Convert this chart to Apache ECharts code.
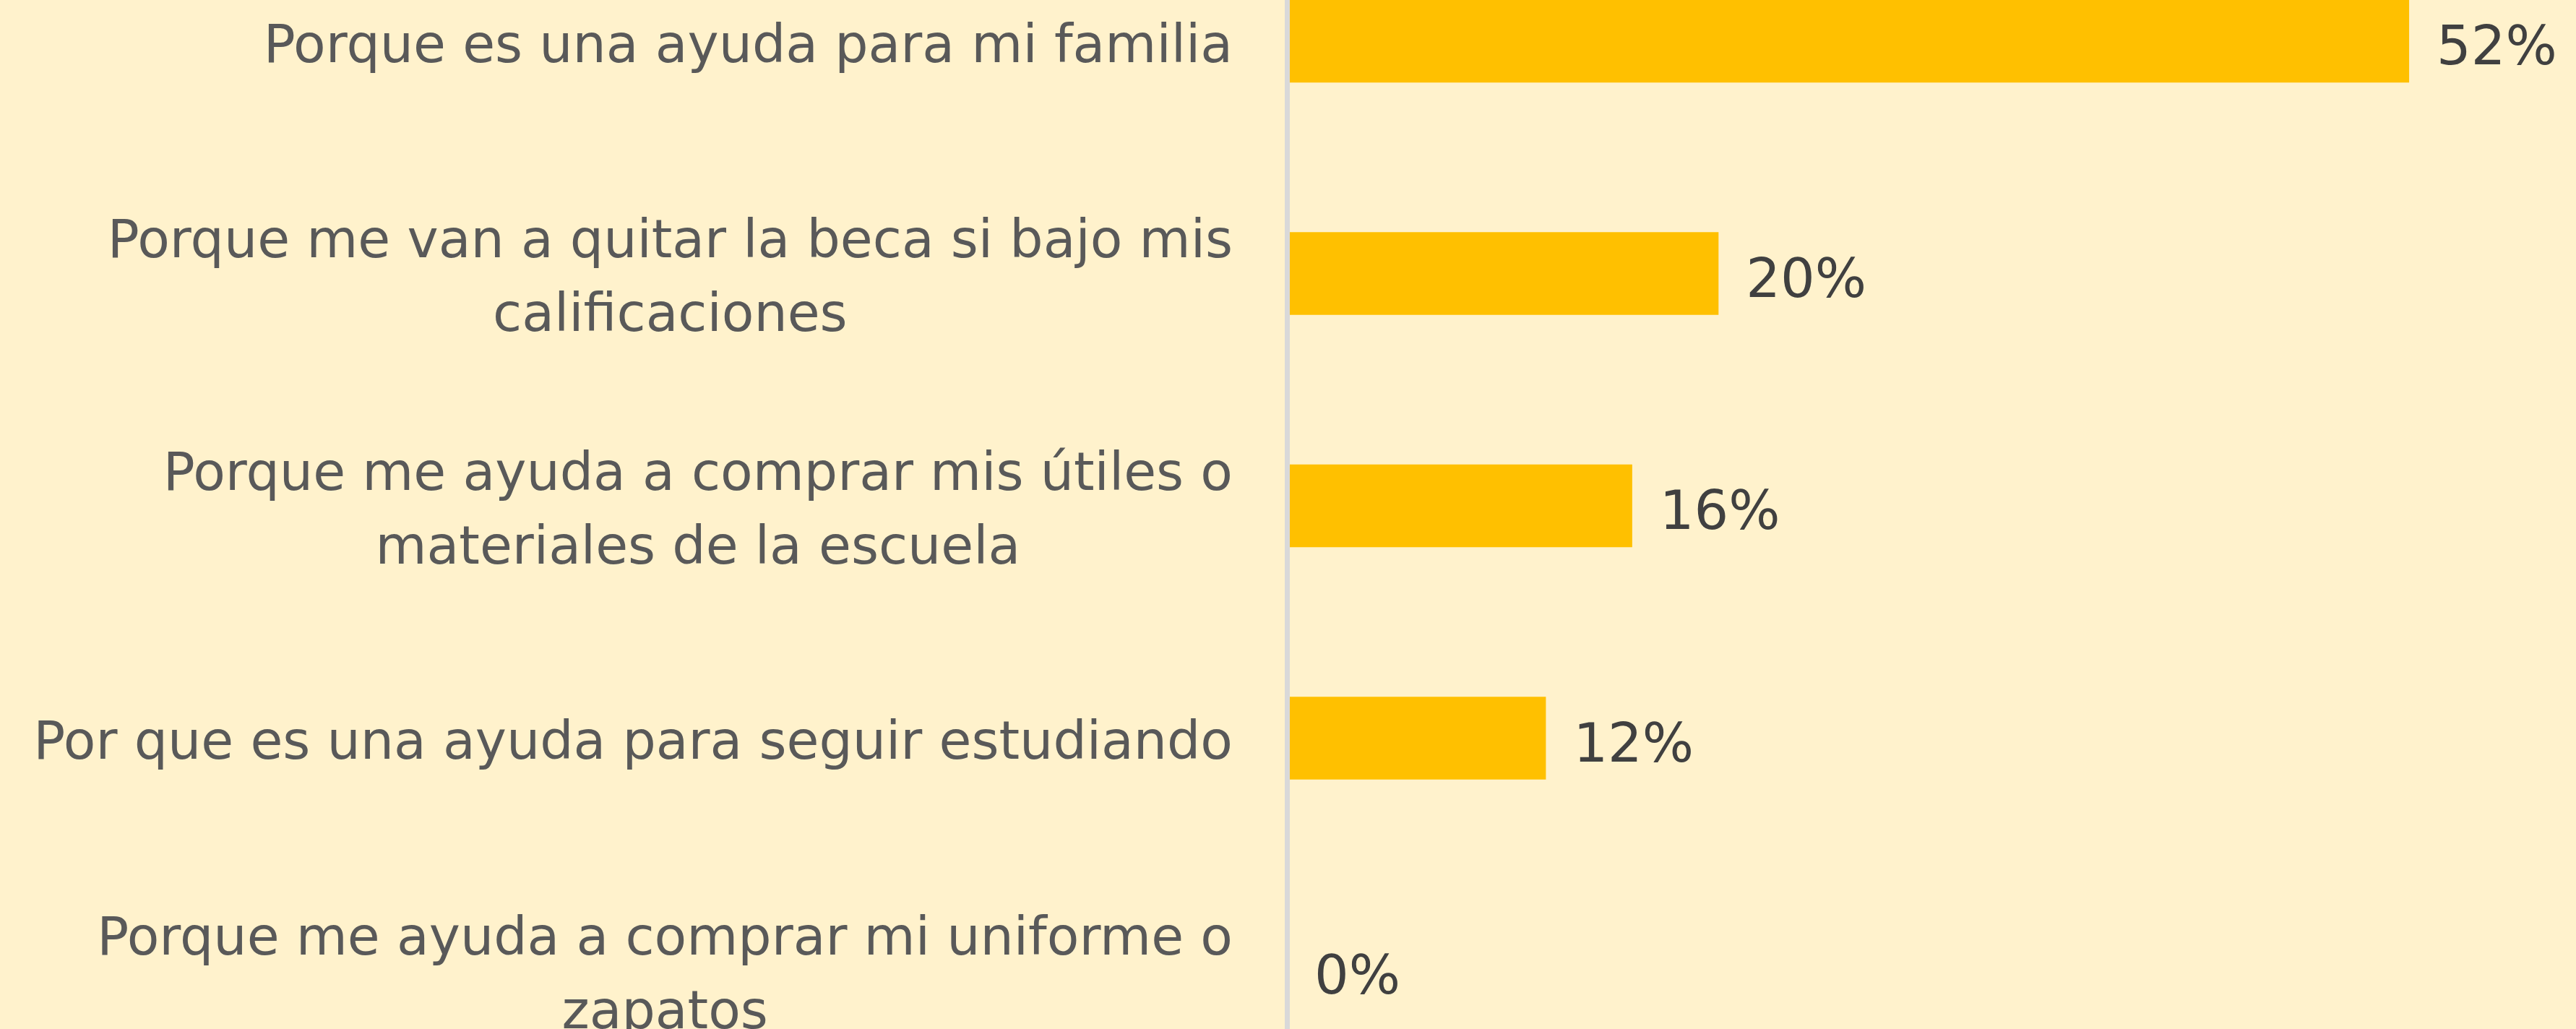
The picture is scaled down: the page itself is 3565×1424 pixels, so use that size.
<!DOCTYPE html>
<html>
<head>
<meta charset="utf-8">
<script src="https://cdn.jsdelivr.net/npm/echarts@6/dist/echarts.min.js"></script>
<style>
  html, body { margin: 0; padding: 0; background: #FFF2CC; }
  #chart { width: 3565px; height: 1424px; }
</style>
</head>
<body>
<div id="chart"></div>
<script>
// data
const categories = [
  'Porque es una ayuda para mi familia',
  'Porque me van a quitar la beca si bajo mis calificaciones',
  'Porque me ayuda a comprar mis útiles o materiales de la escuela',
  'Por que es una ayuda para seguir estudiando',
  'Porque me ayuda a comprar mi uniforme o zapatos'
]
const values = [52, 20, 16, 12, 0]

const fontFamily = 'DejaVu Sans'
const labelColor = '#595959'

// wrap a label on words, like the spreadsheet does (about 43 chars a line)
function wrapLabel(text, maxChars) {
  const words = text.split(' ')
  const lines = []
  let line = ''
  words.forEach(w => {
    const next = line ? line + ' ' + w : w
    if (next.length > maxChars && line) {
      lines.push(line)
      line = w
    } else {
      line = next
    }
  })
  if (line) lines.push(line)
  return lines
}

const chart = echarts.init(document.getElementById('chart'))
chart.setOption({
  animation: false,
  backgroundColor: '#FFF2CC',
  textStyle: { fontFamily: fontFamily },
  grid: {
    left: 1781,
    top: -103.75,
    width: 1792,
    height: 1607.5,
    // the plot runs past the top and bottom edges, don't squeeze it back in
    outerBoundsMode: 'none',
    containLabel: false
  },
  xAxis: {
    type: 'value',
    min: 0,
    max: 60,
    show: false,
    splitLine: { show: false }
  },
  yAxis: {
    type: 'category',
    inverse: true,
    data: categories,
    z: 5,
    axisLine: {
      show: true,
      lineStyle: { color: '#D9D9D9', width: 7 }
    },
    axisTick: { show: false },
    axisLabel: {
      margin: 75,
      interval: 0,
      // nudges the text a little lower, glyphs sit high in this font
      padding: [20, 0, 0, 0],
      formatter: (value) => {
        return wrapLabel(value, 43).map(l => '{c|' + l + '}').join('\n')
      },
      rich: {
        c: {
          align: 'center',
          fontFamily: fontFamily,
          fontSize: 73,
          lineHeight: 102,
          color: labelColor
        }
      }
    }
  },
  series: [{
    type: 'bar',
    data: values,
    barWidth: 114.5,
    itemStyle: { color: '#FFC000' },
    label: {
      show: true,
      position: 'right',
      distance: 38,
      offset: [0, 13],
      formatter: '{c}%',
      fontFamily: fontFamily,
      fontSize: 75,
      color: '#404040'
    }
  }]
})
</script>
</body>
</html>
